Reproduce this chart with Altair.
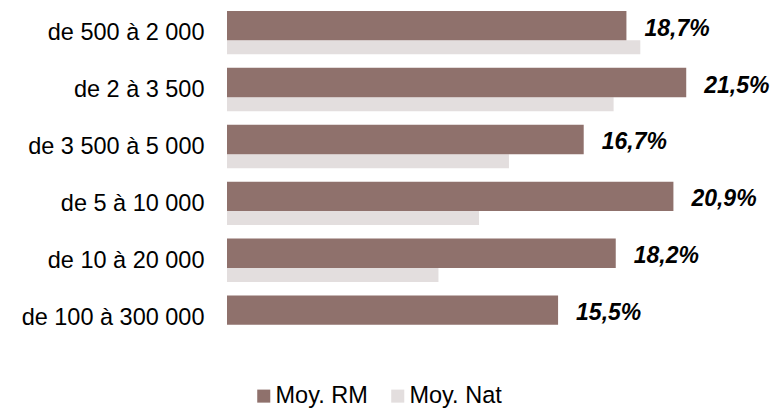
import altair as alt
import pandas as pd

categories = ["de 500 à 2 000", "de 2 à 3 500", "de 3 500 à 5 000",
              "de 5 à 10 000", "de 10 à 20 000", "de 100 à 300 000"]
series = ["Moy. RM", "Moy. Nat"]
rm_values = [18.7, 21.5, 16.7, 20.9, 18.2, 15.5]
nat_values = [19.35, 18.1, 13.2, 11.8, 9.9, None]
colors = ["#8f716c", "#e3dede"]

rows = []
for c, r, n in zip(categories, rm_values, nat_values):
    rows.append({"cat": c, "serie": series[0], "val": r,
                 "lab": f"{r:.1f}%".replace(".", ",")})
    if n is not None:
        rows.append({"cat": c, "serie": series[1], "val": n, "lab": ""})
df = pd.DataFrame(rows)

FONT = "Liberation Sans"

y_enc = alt.Y("cat:N", sort=categories,
              scale=alt.Scale(paddingInner=0, paddingOuter=0),
              axis=alt.Axis(title=None, domain=False, ticks=False, grid=False,
                            labelFont=FONT, labelFontSize=23.5, labelColor="#000000",
                            labelPadding=23, labelOffset=-3, labelLimit=400))
x_enc = alt.X("val:Q", scale=alt.Scale(domain=[0, 25], nice=False), axis=None)
color_enc = alt.Color("serie:N",
                      scale=alt.Scale(domain=series, range=colors),
                      legend=alt.Legend(title=None, orient="none", direction="horizontal",
                                        legendX=25, legendY=376,
                                        symbolType="square", symbolSize=170,
                                        symbolStrokeWidth=0, labelOffset=0,
                                        columnPadding=18,
                                        labelFont=FONT, labelFontSize=23.5,
                                        labelColor="#000000"))

base = alt.Chart(df)

nat_bar = base.transform_filter(alt.datum.serie == series[1]).mark_bar(
    size=14, yOffset=10.9).encode(y=y_enc, x=x_enc, color=color_enc)
rm_bar = base.transform_filter(alt.datum.serie == series[0]).mark_bar(
    size=29.4, yOffset=-10.8).encode(y=y_enc, x=x_enc, color=color_enc)
labels = base.transform_filter(alt.datum.serie == series[0]).mark_text(
    align="left", baseline="middle", dx=18, dy=3, yOffset=-10.8,
    font=FONT, fontSize=23, fontWeight="bold", fontStyle="italic",
    color="#000000").encode(y=y_enc, x=x_enc, text="lab:N")

chart = alt.layer(nat_bar, rm_bar, labels).properties(
    width=534, height=341.4,
    autosize=alt.AutoSizeParams(type="none"),
    padding={"left": 219, "top": 0, "right": 11, "bottom": 62},
    background="#ffffff",
).configure_view(strokeWidth=0)

chart.save("out.html", embed_options={"renderer": "svg", "actions": False})
